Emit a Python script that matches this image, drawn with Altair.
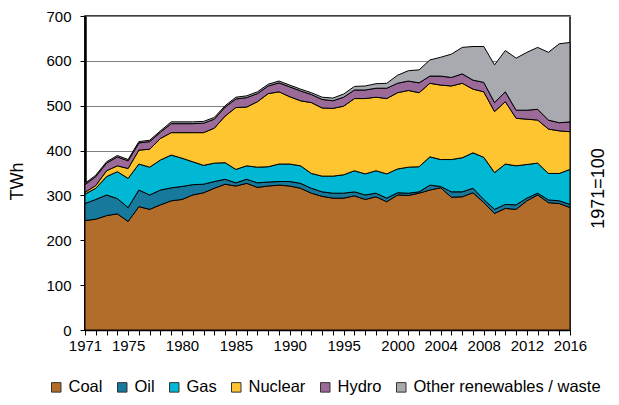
import altair as alt
import pandas as pd

years = list(range(1971, 2017))

coal = [244, 247, 255, 259, 242, 275, 269, 279, 288, 291, 301, 306, 316, 325, 321, 327, 318, 321, 323, 321,
        316, 305, 298, 294, 294, 299, 291, 297, 286, 301, 300, 305, 312, 317, 296, 297, 306, 284, 260, 271,
        269, 288, 301, 284, 282, 273]
oil = [38, 44, 46, 34, 31, 37, 32, 33, 29, 29, 23, 19, 15, 11, 7, 9, 10, 9, 8, 10,
       11, 11, 10, 11, 11, 9, 10, 8, 8, 5, 5, 3, 11, 3, 12, 11, 10, 7, 9, 9,
       10, 6, 4, 6, 6, 7]
gas = [21, 25, 41, 60, 65, 58, 62, 67, 73, 63, 51, 42, 41, 37, 30, 30, 35, 34, 39, 39,
       39, 33, 35, 38, 41, 47, 47, 50, 54, 53, 58, 56, 63, 60, 72, 76, 79, 94, 82, 90,
       87, 75, 67, 59, 61, 78]
nuclear = [4, 6, 13, 13, 22, 31, 40, 48, 50, 57, 65, 73, 78, 104, 138, 131, 146, 163, 161, 150,
           145, 158, 152, 151, 153, 161, 168, 164, 168, 170, 171, 165, 164, 166, 164, 166, 142, 146, 136, 139,
           106, 101, 96, 99, 95, 84]
hydro = [17, 20, 17, 20, 17, 16, 17, 14, 20, 20, 20, 21, 20, 20, 19, 21, 18, 17, 20, 22,
         22, 18, 19, 17, 20, 19, 19, 20, 23, 21, 21, 22, 16, 20, 19, 21, 20, 21, 20, 22,
         18, 20, 24, 20, 18, 22]
other = [3, 3, 3, 3, 3, 3, 3, 3, 4, 4, 4, 4, 4, 3, 4, 4, 4, 4, 4, 4,
         4, 4, 5, 6, 7, 8, 9, 10, 11, 18, 23, 29, 36, 42, 52, 59, 75, 80, 84, 92,
         116, 129, 138, 151, 176, 177]

series_names = ["Coal", "Oil", "Gas", "Nuclear", "Hydro", "Other renewables / waste"]
series_colors = ["#B36D2A", "#177A9C", "#00B8D4", "#FEC530", "#9C6A98", "#A8AAB0"]
label_years = [1971, 1975, 1980, 1985, 1990, 1995, 2000, 2004, 2008, 2012, 2016]
y_ticks = [0, 100, 200, 300, 400, 500, 600, 700]

rows = []
for i, (name, vals) in enumerate(zip(series_names, [coal, oil, gas, nuclear, hydro, other])):
    for yr, v in zip(years, vals):
        rows.append({"year": yr, "source": name, "twh": v, "ord": i})
df = pd.DataFrame(rows)

label_expr = ("indexof([" + ",".join(str(y) for y in label_years) +
              "], datum.value) >= 0 ? datum.value + '' : ''")

FONT = "Arial, Liberation Sans, sans-serif"

x_scale = alt.Scale(domain=[1971, 2016], nice=False, zero=False)
x_axis = alt.Axis(values=years, labelExpr=label_expr, title=None, grid=False,
                  tickSize=5, labelPadding=3, labelOverlap=False, labelFlush=False,
                  labelFontSize=15, domainColor="black", domainWidth=1.5,
                  tickColor="black")

area = alt.Chart(df).mark_area(stroke="black", strokeWidth=1, strokeJoin="round").encode(
    x=alt.X("year:Q", scale=x_scale, axis=x_axis),
    y=alt.Y("twh:Q", stack="zero",
            scale=alt.Scale(domain=[0, 700], nice=False),
            axis=alt.Axis(values=y_ticks, title="TWh", titleFontSize=18, titleFontWeight="normal",
                          titlePadding=19, titleY=165, labelPadding=9, tickSize=5, labelFontSize=15,
                          grid=True, gridColor="#808080", gridWidth=1,
                          domainColor="black", domainWidth=2.5, tickColor="black")),
    color=alt.Color("source:N",
                    scale=alt.Scale(domain=series_names, range=series_colors),
                    legend=alt.Legend(title=None, orient="none", direction="horizontal",
                                      legendX=-37, legendY=363,
                                      symbolType="square", symbolSize=90,
                                      symbolStrokeColor="#333333", symbolStrokeWidth=1,
                                      symbolOpacity=1, labelFontSize=16.5, columnPadding=11,
                                      labelOffset=4, labelLimit=0)),
    order=alt.Order("ord:Q", sort="ascending"),
)

right = alt.Chart(df).mark_line(opacity=0).encode(
    x=alt.X("year:Q", scale=x_scale, axis=x_axis),
    y=alt.Y("twh:Q", scale=alt.Scale(domain=[0, 700], nice=False),
            axis=alt.Axis(orient="right", title="1971=100", labels=False, ticks=False,
                          domain=False, grid=False, titleAngle=270, titleBaseline="top",
                          titlePadding=19, titleY=172, titleFontSize=18, titleFontWeight="normal")),
)

chart = alt.layer(area, right).resolve_scale(y="independent").properties(
    width=485, height=314,
    autosize=alt.AutoSizeParams(type="none"),
    padding={"left": 77, "top": 8, "right": 41, "bottom": 67},
).configure_view(
    stroke="black", strokeWidth=1.5
).configure_axis(
    labelFont=FONT, titleFont=FONT, labelColor="black", titleColor="black"
).configure_legend(
    labelFont=FONT, labelColor="black"
)

chart.save("out.html", embed_options={"renderer": "svg", "actions": False})
